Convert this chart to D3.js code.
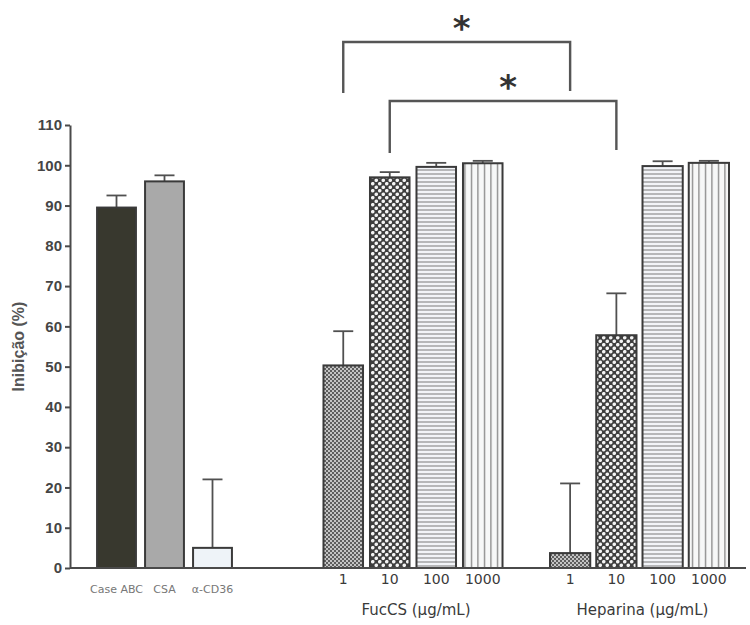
<!DOCTYPE html>
<html>
<head>
<meta charset="utf-8">
<script src="https://cdn.jsdelivr.net/npm/d3@7"></script>
<style>
  html, body { margin: 0; padding: 0; background: #fff; }
  svg { display: block; }
</style>
</head>
<body>
<svg id="chart" width="750" height="625"></svg>
<script>
// Control groups
const controlLabels = ["Case ABC", "CSA", "α-CD36"];
const controlValues = [89.5, 96, 5];
const controlErrors = [3, 1.5, 17];

// Dose groups (µg/mL)
const doses = ["1", "10", "100", "1000"];
const fuccsValues = [50.3, 97, 99.6, 100.5];
const fuccsErrors = [8.5, 1.3, 1, 0.6];
const heparinaValues = [3.7, 57.8, 99.8, 100.6];
const heparinaErrors = [17.3, 10.4, 1.2, 0.5];

const yTicks = [0, 10, 20, 30, 40, 50, 60, 70, 80, 90, 100, 110];
const groupTitles = ["FucCS (µg/mL)", "Heparina (µg/mL)"];

// Significance brackets: [dose index in FucCS, dose index in Heparina]
const brackets = [[0, 0], [1, 1]];
const bracketLabel = "*";

const svg = d3.select("#chart");
const axisColor = "#4a4a4a";
const textColor = "#454545";
const barStroke = "#3a3a3a";

const y = d3.scaleLinear().domain([0, 110]).range([568, 125]);
const xAxisStart = 70, xAxisEnd = 746;

const xCtrl = d3.scaleBand().domain(controlLabels).range([92.5, 236.5]).paddingInner(0.19).paddingOuter(0.095);
const xFuc = d3.scaleBand().domain(doses).range([320, 506]).paddingInner(0.15).paddingOuter(0.075);
const xHep = d3.scaleBand().domain(doses).range([547, 732]).paddingInner(0.13).paddingOuter(0.065);

// Fill patterns
const defs = svg.append("defs");

// fine grey checker (dose 1)
const pFine = defs.append("pattern").attr("id", "pFine").attr("patternUnits", "userSpaceOnUse")
  .attr("width", 4).attr("height", 4);
pFine.append("rect").attr("width", 4).attr("height", 4).attr("fill", "#c4c4c4");
pFine.append("rect").attr("width", 2).attr("height", 2).attr("fill", "#5e5e5e");
pFine.append("rect").attr("x", 2).attr("y", 2).attr("width", 2).attr("height", 2).attr("fill", "#5e5e5e");

// white dots on dark (dose 10)
const pDots = defs.append("pattern").attr("id", "pDots").attr("patternUnits", "userSpaceOnUse")
  .attr("width", 7).attr("height", 7);
pDots.append("rect").attr("width", 7).attr("height", 7).attr("fill", "#3e3e3e");
pDots.append("circle").attr("cx", 1.75).attr("cy", 1.75).attr("r", 1.8).attr("fill", "#f4f4f4");
pDots.append("circle").attr("cx", 5.25).attr("cy", 5.25).attr("r", 1.8).attr("fill", "#f4f4f4");

// horizontal lines (dose 100)
const pHor = defs.append("pattern").attr("id", "pHor").attr("patternUnits", "userSpaceOnUse")
  .attr("width", 8).attr("height", 4);
pHor.append("rect").attr("width", 8).attr("height", 4).attr("fill", "#f2f4f8");
pHor.append("rect").attr("y", 1.5).attr("width", 8).attr("height", 1).attr("fill", "#7a7a7a");

// vertical lines (dose 1000)
const pVer = defs.append("pattern").attr("id", "pVer").attr("patternUnits", "userSpaceOnUse")
  .attr("width", 6.5).attr("height", 8);
pVer.append("rect").attr("width", 6.5).attr("height", 8).attr("fill", "#f7f8f8");
pVer.append("rect").attr("x", 3).attr("width", 1).attr("height", 8).attr("fill", "#666");

const ctrlFills = ["#38382e", "#a9a9a9", "#eef3f8"];
const doseFills = ["url(#pFine)", "url(#pDots)", "url(#pHor)", "url(#pVer)"];

function drawBars(scale, labels, values, errors, fills) {
  const data = labels.map((l, i) => ({ l, v: values[i], e: errors[i], f: fills[i] }));
  const g = svg.append("g");
  const cx = d => scale(d.l) + scale.bandwidth() / 2;
  // error bars (upper only)
  g.selectAll("line.err").data(data).join("line")
    .attr("x1", cx).attr("x2", cx)
    .attr("y1", d => y(d.v)).attr("y2", d => y(d.v + d.e))
    .attr("stroke", "#505050").attr("stroke-width", 1.8);
  g.selectAll("line.cap").data(data).join("line")
    .attr("x1", d => cx(d) - 10).attr("x2", d => cx(d) + 10)
    .attr("y1", d => y(d.v + d.e)).attr("y2", d => y(d.v + d.e))
    .attr("stroke", "#505050").attr("stroke-width", 1.8);
  g.selectAll("rect").data(data).join("rect")
    .attr("x", d => scale(d.l))
    .attr("y", d => y(d.v))
    .attr("width", scale.bandwidth())
    .attr("height", d => y(0) - y(d.v))
    .attr("fill", d => d.f)
    .attr("stroke", barStroke).attr("stroke-width", 2);
}

drawBars(xCtrl, controlLabels, controlValues, controlErrors, ctrlFills);
drawBars(xFuc, doses, fuccsValues, fuccsErrors, doseFills);
drawBars(xHep, doses, heparinaValues, heparinaErrors, doseFills);

// Y axis
const yAxis = d3.axisLeft(y).tickValues(yTicks).tickSize(5).tickPadding(3).tickSizeOuter(0);
const gy = svg.append("g").attr("transform", `translate(${xAxisStart},0)`).call(yAxis);
gy.select(".domain").attr("stroke", axisColor).attr("stroke-width", 2);
gy.selectAll(".tick line").attr("stroke", axisColor).attr("stroke-width", 2);
gy.selectAll(".tick text")
  .attr("fill", textColor).attr("font-family", "Liberation Sans, Arial, sans-serif")
  .attr("font-size", 15).attr("font-weight", "bold");

// X axis baseline
svg.append("line")
  .attr("x1", xAxisStart).attr("x2", xAxisEnd)
  .attr("y1", y(0)).attr("y2", y(0))
  .attr("stroke", axisColor).attr("stroke-width", 2);

// Y axis title
svg.append("text")
  .attr("transform", `translate(24,${(y(0) + y(110)) / 2}) rotate(-90)`)
  .attr("text-anchor", "middle")
  .attr("fill", "#555").attr("font-family", "Liberation Sans, Arial, sans-serif")
  .attr("font-size", 16).attr("font-weight", "bold")
  .text("Inibição (%)");

// Control category labels
svg.append("g").selectAll("text").data(controlLabels).join("text")
  .attr("x", d => xCtrl(d) + xCtrl.bandwidth() / 2)
  .attr("y", 593)
  .attr("text-anchor", "middle")
  .attr("fill", "#777").attr("font-family", "DejaVu Sans, sans-serif")
  .attr("font-size", 11)
  .text(d => d);

// Dose tick labels and group titles
[[xFuc, groupTitles[0]], [xHep, groupTitles[1]]].forEach(([sc, title]) => {
  svg.append("g").selectAll("text").data(doses).join("text")
    .attr("x", d => sc(d) + sc.bandwidth() / 2)
    .attr("y", 584)
    .attr("text-anchor", "middle")
    .attr("fill", "#3a3a3a").attr("font-family", "DejaVu Sans, sans-serif")
    .attr("font-size", 14)
    .text(d => d);
  const r = sc.range();
  svg.append("text")
    .attr("x", (r[0] + r[1]) / 2 + 3)
    .attr("y", 615)
    .attr("text-anchor", "middle")
    .attr("fill", "#3a3a3a").attr("font-family", "DejaVu Sans, sans-serif")
    .attr("font-size", 15)
    .text(title);
});

// Significance brackets
const bracketTops = [42, 101];
const bracketBottoms = [[93, 91], [153, 150]];
brackets.forEach(([i, j], k) => {
  const x1 = xFuc(doses[i]) + xFuc.bandwidth() / 2;
  const x2 = xHep(doses[j]) + xHep.bandwidth() / 2;
  const top = bracketTops[k];
  svg.append("path")
    .attr("d", `M${x1},${bracketBottoms[k][0]} V${top} H${x2} V${bracketBottoms[k][1]}`)
    .attr("fill", "none").attr("stroke", "#555").attr("stroke-width", 2.4);
  svg.append("text")
    .attr("x", (x1 + x2) / 2 + 5).attr("y", top - 2)
    .attr("text-anchor", "middle")
    .attr("fill", "#333").attr("font-family", "DejaVu Sans, sans-serif")
    .attr("font-size", 34).attr("font-weight", "bold")
    .text(bracketLabel);
});
</script>
</body>
</html>
